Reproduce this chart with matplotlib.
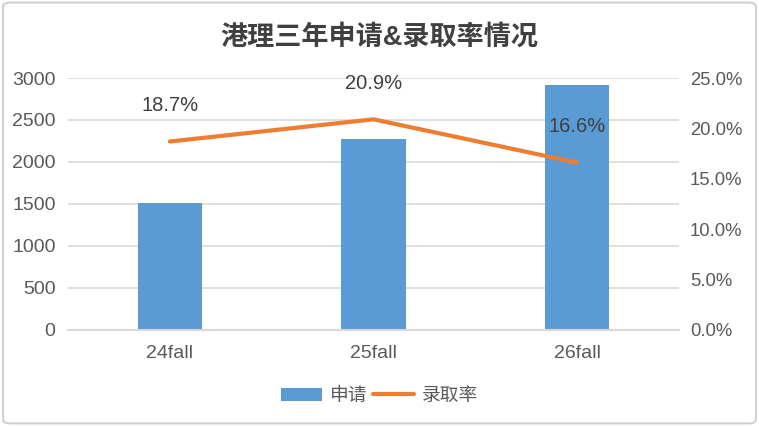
import matplotlib

matplotlib.use("Agg")
import matplotlib.pyplot as plt
from matplotlib.patches import FancyBboxPatch
from matplotlib.ticker import FuncFormatter

plt.rcParams["font.family"] = ["Liberation Sans", "Noto Sans CJK SC", "DejaVu Sans"]

categories = ["24fall", "25fall", "26fall"]
applications = [1515, 2275, 2920]
admit_rate = [18.7, 20.9, 16.6]

BLUE, ORANGE, TXT, GRID = "#5b9bd5", "#ed7d31", "#595959", "#d9d9d9"

fig = plt.figure(figsize=(7.59, 4.26), dpi=100)
fig.patches.append(FancyBboxPatch((0.004, 0.006), 0.992, 0.988, boxstyle="round,pad=0,rounding_size=0.01",
                                  transform=fig.transFigure, facecolor="white", edgecolor="#d0d0d0",
                                  linewidth=1.5, zorder=-10))

ax = fig.add_axes([0.0896, 0.2254, 0.805, 0.5915])
ax.set_facecolor("none")
x = range(len(categories))
bars = ax.bar(x, applications, width=0.315, color=BLUE, zorder=2, label="申请")
ax.set_xlim(-0.5, 2.5)
ax.set_ylim(0, 3000)
ax.set_yticks(range(0, 3001, 500))
ax.set_xticks(list(x))
ax.set_xticklabels(categories)
ax.grid(axis="y", color=GRID, linewidth=1.2, zorder=0)
for s in ("top", "left", "right"):
    ax.spines[s].set_visible(False)
ax.spines["bottom"].set_color(GRID)
ax.spines["bottom"].set_linewidth(1.5)
ax.tick_params(axis="both", length=0, labelsize=14, colors=TXT)
ax.tick_params(axis="y", pad=9)
ax.tick_params(axis="x", pad=11)

ax2 = ax.twinx()
line, = ax2.plot(list(x), admit_rate, color=ORANGE, linewidth=3, solid_capstyle="round",
                 zorder=3, label="录取率")
ax2.set_ylim(0, 25)
ax2.set_yticks(range(0, 26, 5))
ax2.yaxis.set_major_formatter(FuncFormatter(lambda v, _: f"{v:.1f}%"))
for s in ax2.spines.values():
    s.set_visible(False)
ax2.tick_params(axis="y", length=0, labelsize=13.3, colors=TXT, pad=8)
for xi, v in zip(x, admit_rate):
    ax2.annotate(f"{v}%", (xi, v), xytext=(0, 19), textcoords="offset points",
                 ha="center", va="bottom", fontsize=14.5, color="#404040")

fig.text(0.5, 0.912, "港理三年申请&录取率情况", ha="center", va="center", fontsize=19.5,
         fontweight="bold", color="#404040")

fig.legend([bars, line], ["申请", "录取率"], loc="center", bbox_to_anchor=(0.5, 0.07),
           ncol=2, frameon=False, fontsize=13.5, labelcolor=TXT, handlelength=2.2,
           handletextpad=0.4, columnspacing=0.3)

fig.savefig("out.png", dpi=100)
